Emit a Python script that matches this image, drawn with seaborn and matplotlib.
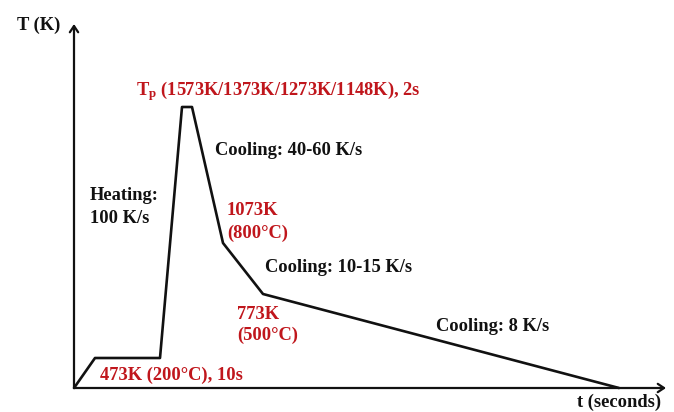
import matplotlib
matplotlib.use("Agg")
import matplotlib.pyplot as plt
import seaborn as sns
import pandas as pd

# Schematic thermal cycle (arbitrary schematic units)
time = [0, 21, 86, 108, 118, 149, 189, 545]
temp = [0, 30, 30, 281, 281, 145, 94, 0]

sns.set_style("white")
plt.rcParams['font.family'] = ['Liberation Serif', 'DejaVu Serif']
plt.rcParams['font.weight'] = 'bold'
plt.rcParams['mathtext.fontset'] = 'custom'
plt.rcParams['mathtext.rm'] = 'Liberation Serif:bold'
plt.rcParams['mathtext.bf'] = 'Liberation Serif:bold'
plt.rcParams['mathtext.it'] = 'Liberation Serif:bold'

RED = '#C0161C'
BLACK = '#111111'

df = pd.DataFrame({"t": time, "T": temp})

fig = plt.figure(figsize=(6.74, 4.12), dpi=100)
ax = fig.add_axes([0, 0, 1, 1])
ax.set_xlim(-74, 600)
ax.set_ylim(-24, 388)
ax.axis('off')

sns.lineplot(data=df, x="t", y="T", sort=False, color=BLACK, linewidth=1.9,
             ax=ax, estimator=None)

# axes with arrows
arrow = dict(arrowstyle='->,head_length=0.45,head_width=0.3', color=BLACK,
             lw=1.6, shrinkA=0, shrinkB=0)
ax.annotate('', xy=(0, 364), xytext=(0, 0), arrowprops=arrow)
ax.annotate('', xy=(592, 0), xytext=(0, 0), arrowprops=arrow)

def px(x, y):
    return (x - 74, 388 - y)

fs = 13.3
ax.text(*px(17, 30), 'T (K)', fontsize=fs, color=BLACK, fontweight='bold')
ax.text(*px(577, 407), 't (seconds)', fontsize=fs, color=BLACK, fontweight='bold')
ax.text(*px(136, 95), r'T$_{\mathbf{p}}$ (1573K/1373K/1273K/1148K), 2s', fontsize=fs,
        color=RED, fontweight='bold')
ax.text(*px(215, 155), 'Cooling: 40-60 K/s', fontsize=fs, color=BLACK, fontweight='bold')
ax.text(*px(90, 200), 'Heating:', fontsize=fs, color=BLACK, fontweight='bold')
ax.text(*px(90, 223), '100 K/s', fontsize=fs, color=BLACK, fontweight='bold')
ax.text(*px(227, 215), '1073K', fontsize=fs, color=RED, fontweight='bold')
ax.text(*px(227, 238), '(800°C)', fontsize=fs, color=RED, fontweight='bold')
ax.text(*px(265, 272), 'Cooling: 10-15 K/s', fontsize=fs, color=BLACK, fontweight='bold')
ax.text(*px(237, 319), '773K', fontsize=fs, color=RED, fontweight='bold')
ax.text(*px(237, 340), '(500°C)', fontsize=fs, color=RED, fontweight='bold')
ax.text(*px(436, 331), 'Cooling: 8 K/s', fontsize=fs, color=BLACK, fontweight='bold')
ax.text(*px(100, 380), '473K (200°C), 10s', fontsize=fs, color=RED, fontweight='bold')

fig.savefig('out.png', dpi=100)
